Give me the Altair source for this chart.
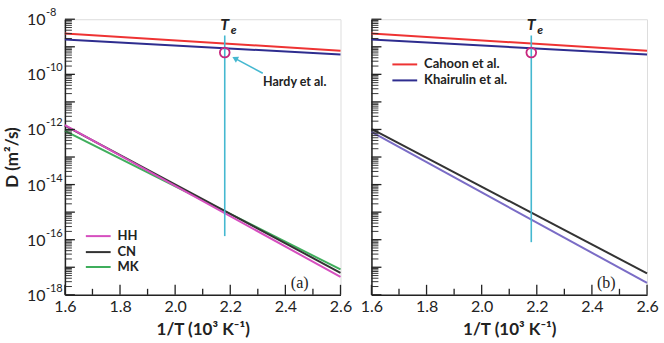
import altair as alt
import pandas as pd

# ---------------- data (log10 D values) ----------------
X_ENDS = [1.6, 2.6]
CAHOON = [-8.52, -9.14]
KHAIRULIN = [-8.74, -9.28]
HH = [-11.84, -17.35]
CN = [-11.86, -17.20]
MK = [-12.05, -17.08]
B_BLACK = [-11.98, -17.22]
B_PURPLE = [-12.09, -17.57]

TE_X = 2.18
TE_LINE_A = [-8.59, -15.87]
TE_LINE_B = [-8.59, -16.09]
CIRCLE_LOG = -9.21
TE_LABEL_LOG = -8.2

ARROW_TAIL = (2.318, -9.96)
ARROW_HEAD = (2.217, -9.42)
HARDY_POS = (2.434, -10.29)

LEG_A_NAMES = ["HH", "CN", "MK"]
LEG_A_LOGS = [-15.87, -16.45, -16.99]
LEG_B_NAMES = ["Cahoon et al.", "Khairulin et al."]
LEG_B_LOGS = [-9.64, -10.22]
LEG_X = [1.676, 1.766, 1.791]

X_MAJOR = [1.6, 1.8, 2.0, 2.2, 2.4, 2.6]
X_MINOR = [1.7, 1.9, 2.1, 2.3, 2.5]
Y_EXPONENTS = [-8, -10, -12, -14, -16, -18]
Y_SUP_TEXT = ["-8", "-10", "-12", "-14", "-16", "-18"]
DECADES = list(range(-18, -7))

W, H = 276, 276
RED, NAVY, MAGENTA, BLACK, GREEN, PURPLE = "#ee3333", "#2e2d8f", "#d64fbf", "#333333", "#3fae5c", "#7a6cc6"
CYAN = "#45b8d0"
FONT = "Lato"

xscale = alt.Scale(domain=[1.6, 2.6], nice=False, zero=False)
yscale = alt.Scale(type="log", domain=[1e-18, 1e-8], nice=False)

minor_vals = []
for n in DECADES[:-1]:
    for k in range(2, 10):
        minor_vals.append(k * 10.0 ** n)
decade_vals = [10.0 ** n for n in DECADES]


def panel(which):
    if which == "a":
        series = [("Cahoon", CAHOON, RED), ("Khairulin", KHAIRULIN, NAVY), ("MK", MK, GREEN),
                  ("CN", CN, BLACK), ("HH", HH, MAGENTA)]
        legend = [("HH", LEG_A_LOGS[0], MAGENTA), ("CN", LEG_A_LOGS[1], BLACK), ("MK", LEG_A_LOGS[2], GREEN)]
        te_line = TE_LINE_A
        tag = "(a)"
        yaxis = alt.Axis(values=[10.0 ** e for e in Y_EXPONENTS], labels=False, ticks=False, grid=False,
                         domainColor="#222", domainWidth=1.5,
                         title="D (m²/s)", titleFont=FONT, titleFontSize=17, titleFontWeight="bold",
                         titleColor="#222", titlePadding=43)
    else:
        series = [("Cahoon", CAHOON, RED), ("Khairulin", KHAIRULIN, NAVY), ("Black", B_BLACK, BLACK),
                  ("Purple", B_PURPLE, PURPLE)]
        legend = [("Cahoon et al.", LEG_B_LOGS[0], RED), ("Khairulin et al.", LEG_B_LOGS[1], NAVY)]
        te_line = TE_LINE_B
        tag = "(b)"
        yaxis = alt.Axis(values=[10.0 ** e for e in Y_EXPONENTS], labels=False, ticks=False, grid=False,
                         title=None, domainColor="#222", domainWidth=1.5)

    xaxis = alt.Axis(values=X_MAJOR, format=".1f", ticks=False, grid=False, labelFlush=False,
                     labelOverlap=False,
                     labelFont=FONT, labelFontSize=16, labelColor="#222", labelPadding=4,
                     domainColor="#222", domainWidth=1.5,
                     title="1/T (10³ K⁻¹)", titleFont=FONT, titleFontSize=17, titleFontWeight="bold",
                     titleColor="#222", titlePadding=7)

    X = lambda f="x": alt.X(f"{f}:Q", scale=xscale, axis=xaxis)
    Y = lambda f="D": alt.Y(f"{f}:Q", scale=yscale, axis=yaxis)

    layers = []
    for name, vals, col in series:
        df = pd.DataFrame({"x": X_ENDS, "D": [10 ** v for v in vals]})
        layers.append(alt.Chart(df).mark_line(strokeWidth=2, color=col).encode(x=X(), y=Y()))

    ymaj = alt.Chart(pd.DataFrame({"D": decade_vals})).mark_rule(color="#222", strokeWidth=1.3).encode(
        y=Y(), x=alt.value(0), x2=alt.value(10))
    ymin = alt.Chart(pd.DataFrame({"D": minor_vals})).mark_rule(color="#222", strokeWidth=0.9).encode(
        y=Y(), x=alt.value(0), x2=alt.value(7))
    xmaj = alt.Chart(pd.DataFrame({"x": X_MAJOR})).mark_rule(color="#222", strokeWidth=1.3).encode(
        x=X(), y=alt.value(H), y2=alt.value(H - 10))
    xmin = alt.Chart(pd.DataFrame({"x": X_MINOR})).mark_rule(color="#222", strokeWidth=1.3).encode(
        x=X(), y=alt.value(H), y2=alt.value(H - 6))
    layers += [ymaj, ymin, xmaj, xmin]

    if which == "a":
        lab_df = pd.DataFrame({"D": [10.0 ** e for e in Y_EXPONENTS], "sup": Y_SUP_TEXT, "base": "10"})
        layers.append(alt.Chart(lab_df).mark_text(align="left", baseline="middle", font=FONT, fontSize=16,
                                                  color="#222", dy=1).encode(
            y=Y(), x=alt.value(-38), text="base:N"))
        layers.append(alt.Chart(lab_df).mark_text(align="left", baseline="middle", font=FONT, fontSize=11,
                                                  color="#222", dy=-6).encode(
            y=Y(), x=alt.value(-19), text="sup:N"))

    te_df = pd.DataFrame({"x": [TE_X, TE_X], "D": [10 ** v for v in te_line]})
    layers.append(alt.Chart(te_df).mark_line(color=CYAN, strokeWidth=1.6).encode(x=X(), y=Y()))

    layers.append(alt.Chart(pd.DataFrame({"x": [TE_X], "D": [10 ** CIRCLE_LOG]})).mark_point(
        shape="circle", size=95, filled=False, strokeWidth=1.8, color="#c8287f", opacity=1).encode(x=X(), y=Y()))

    t_df = pd.DataFrame({"x": [TE_X], "D": [10 ** TE_LABEL_LOG]})
    layers.append(alt.Chart(t_df).mark_text(text="T", font=FONT, fontSize=16, fontWeight="bold",
                                            fontStyle="italic", color="#222").encode(x=X(), y=Y()))
    layers.append(alt.Chart(t_df).mark_text(text="e", font=FONT, fontSize=12, fontWeight="bold",
                                            fontStyle="italic", color="#222", dx=9, dy=5).encode(x=X(), y=Y()))

    for name, lg, col in legend:
        ldf = pd.DataFrame({"x": [LEG_X[0]], "x2": [LEG_X[1]], "xt": [LEG_X[2]], "D": [10 ** lg], "s": [name]})
        layers.append(alt.Chart(ldf).mark_rule(strokeWidth=2, color=col).encode(x=X(), x2="x2:Q", y=Y()))
        layers.append(alt.Chart(ldf).mark_text(align="left", baseline="middle", font=FONT, fontSize=13,
                                               fontWeight="bold", color="#222").encode(
            x=X("xt"), y=Y(), text="s:N"))

    layers.append(alt.Chart(pd.DataFrame({"x": [2.452], "D": [10 ** -17.57]})).mark_text(
        text=tag, font="Liberation Serif", fontSize=16, color="#222").encode(x=X(), y=Y()))

    if which == "a":
        arr_df = pd.DataFrame({"x": [ARROW_TAIL[0]], "D": [10 ** ARROW_TAIL[1]],
                               "x2": [ARROW_HEAD[0]], "D2": [10 ** ARROW_HEAD[1]]})
        layers.append(alt.Chart(arr_df).mark_rule(color=CYAN, strokeWidth=1.6).encode(
            x=X(), y=Y(), x2="x2:Q", y2="D2:Q"))
        layers.append(alt.Chart(pd.DataFrame({"x": [ARROW_HEAD[0]], "D": [10 ** ARROW_HEAD[1]]})).mark_point(
            shape="triangle-up", size=45, filled=True, opacity=1, color=CYAN, angle=298).encode(x=X(), y=Y()))
        layers.append(alt.Chart(pd.DataFrame({"x": [HARDY_POS[0]], "D": [10 ** HARDY_POS[1]]})).mark_text(
            text="Hardy et al.", font=FONT, fontSize=12.5, fontWeight="bold", color="#222").encode(x=X(), y=Y()))

    return alt.layer(*layers).properties(width=W, height=H)


chart = alt.hconcat(panel("a"), panel("b"), spacing=31, bounds="flush").properties(
    padding={"left": 3, "top": 6, "right": 5, "bottom": 3}
).configure_view(stroke=None).configure(background="white")

chart.save("out.html", embed_options={"renderer": "svg", "actions": False})
